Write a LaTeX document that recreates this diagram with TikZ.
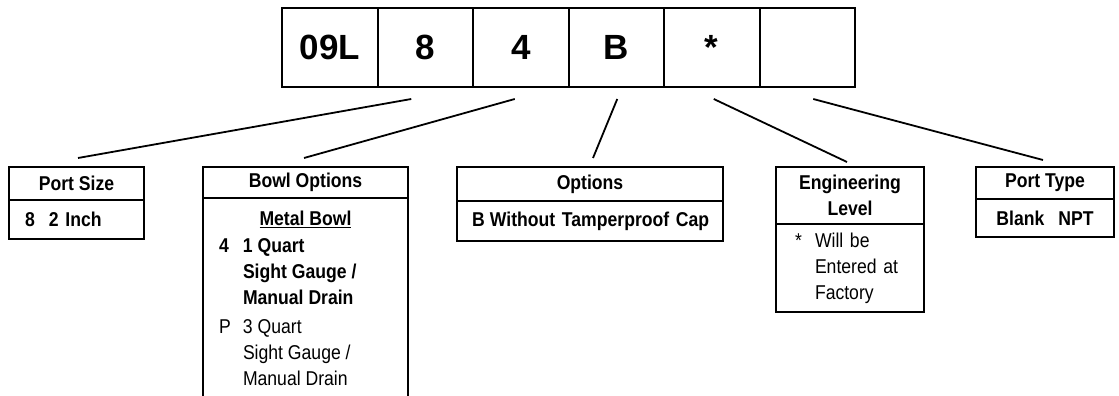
\documentclass[tikz,border=0pt]{standalone}
\usepackage{fontspec}
\setmainfont{Liberation Sans}[FakeStretch=0.88]
\newfontfamily\cellfont{Liberation Sans}
\usetikzlibrary{positioning}

\tikzset{
  cell/.style={draw, line width=2pt, minimum width=95.5pt, minimum height=79pt,
    inner sep=0pt, outer sep=0pt, font=\cellfont\fontsize{35}{40}\selectfont\bfseries},
  head/.style={draw, line width=2pt, inner sep=0pt, outer sep=0pt, anchor=north west,
    align=center, font=\fontsize{20}{26}\selectfont\bfseries},
  body/.style={draw, line width=2pt, inner ysep=0pt, outer sep=0pt,
    font=\fontsize{20}{26}\selectfont},
  link/.style={line width=1.8pt}
}

\begin{document}
\begin{tikzpicture}[x=1pt,y=-1pt]
\useasboundingbox (0,0) rectangle (1119,396);
\clip (0,0) rectangle (1119,396);

% model code
\node[cell] (c1) at (329.75,47.5) {09L};
\node[cell] (c2) at (425.25,47.5) {8};
\node[cell] (c3) at (520.75,47.5) {4};
\node[cell] (c4) at (616.25,47.5) {B};
\node[cell] (c5) at (711.75,47.5) {*};
\node[cell] (c6) at (807.25,47.5) {};

% option boxes
\node[head, minimum width=135pt, minimum height=33pt] (size) at (9,167) {Port Size};
\node[body, below=0pt of size, text width=103pt, inner xsep=16pt, minimum height=39pt,
  align=left] (sizeb) {\bfseries\makebox[24pt][l]{8}2 Inch};

\node[head, minimum width=205pt, minimum height=31pt] (bowl) at (203,167) {Bowl Options};
\node[body, below=0pt of bowl, inner xsep=16pt, inner ysep=13pt] (bowlb)
  {\parbox[t][220pt][t]{173pt}{\centering\bfseries\underline{Metal Bowl}\par\vspace{6pt}
   \raggedright\mdseries
   \begin{tabular}{@{}p{24pt}@{}l@{}}
   \bfseries 4 & \bfseries 1 Quart\\
     & \bfseries Sight Gauge /\\
     & \bfseries Manual Drain\\[3pt]
   P & 3 Quart\\
     & Sight Gauge /\\
     & Manual Drain
   \end{tabular}}};

\node[head, minimum width=266pt, minimum height=34pt] (opt) at (457,167) {Options};
\node[body, below=0pt of opt, text width=236pt, inner xsep=15pt, minimum height=40pt,
  align=left] (optb) {\mbox{\bfseries\makebox[18pt][l]{B}Without Tamperproof Cap}};

\node[head, minimum width=148pt, minimum height=57pt] (eng) at (776,167) {Engineering\\Level};
\node[body, below=0pt of eng, text width=110pt, inner xsep=19pt, minimum height=88pt,
  align=left] (engb)
  {\begin{tabular}{@{}p{20pt}@{}l@{}}
   * & Will be\\
     & Entered at\\
     & Factory
   \end{tabular}\par\vspace{-4pt}};

\node[head, minimum width=138pt, minimum height=32pt] (ptype) at (976,167) {Port Type};
\node[body, below=0pt of ptype, text width=118pt, inner xsep=10pt, minimum height=38pt,
  align=center] (ptypeb) {\bfseries Blank\hspace{14pt}NPT};

% connectors
\draw[link] ([xshift=-14pt,yshift=-12pt]c2.south) -- ([xshift=1.5pt,yshift=9pt]size.north);
\draw[link] ([xshift=-6pt,yshift=-12pt]c3.south) -- ([xshift=-1.5pt,yshift=9pt]bowl.north);
\draw[link] ([xshift=1pt,yshift=-12pt]c4.south) -- ([xshift=3pt,yshift=9pt]opt.north);
\draw[link] ([xshift=2pt,yshift=-12pt]c5.south) -- ([xshift=-3pt,yshift=5pt]eng.north);
\draw[link] ([xshift=6pt,yshift=-12pt]c6.south) -- ([xshift=-2pt,yshift=7pt]ptype.north);
\end{tikzpicture}
\end{document}
